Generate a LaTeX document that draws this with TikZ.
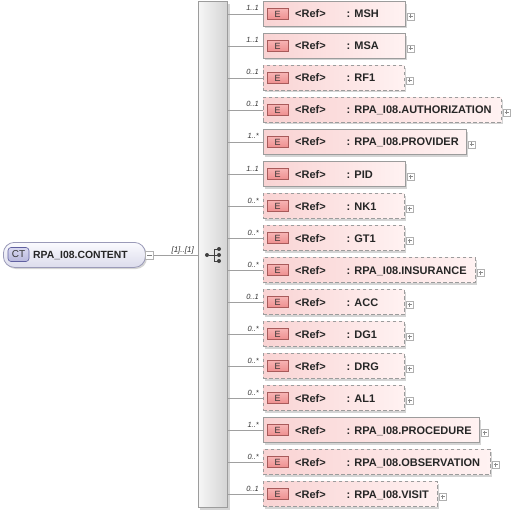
\documentclass[tikz,border=0pt]{standalone}
\usepackage{fontspec}
\setmainfont{Liberation Sans}
\usetikzlibrary{calc}
\definecolor{bordergray}{HTML}{9C9C9C}
\definecolor{linegray}{HTML}{A0A0A0}
\definecolor{pinkA}{HTML}{F9D3D3}
\definecolor{pinkB}{HTML}{FFF2F2}
\definecolor{etagA}{HTML}{F7B4B4}
\definecolor{etagB}{HTML}{EE8E8E}
\definecolor{etagborder}{HTML}{A85A5A}
\definecolor{ctA}{HTML}{FAFAFE}
\definecolor{ctB}{HTML}{DCDCEC}
\definecolor{ctborder}{HTML}{9A9AB8}
\definecolor{cttagA}{HTML}{D8D8F0}
\definecolor{cttagB}{HTML}{B8B8DC}
\definecolor{cttagborder}{HTML}{6060A0}
\definecolor{barA}{HTML}{F6F6F6}
\definecolor{barB}{HTML}{D4D4D4}
\definecolor{shadowgray}{HTML}{D4D4D4}
\tikzset{
  rowbox/.style={draw=bordergray, line width=0.8pt, left color=pinkA, right color=pinkB,
    minimum height=25pt, inner sep=0pt, anchor=west},
  optbox/.style={dash pattern=on 3.5pt off 2.5pt},
  reqbox/.style={solid},
  etag/.style={draw=etagborder, line width=0.6pt, top color=etagA, bottom color=etagB,
    minimum width=21pt, minimum height=11pt, inner sep=0pt, font=\fontsize{9}{10}\selectfont, text=black!80},
  plusbox/.style={draw=bordergray!80, fill=white, minimum size=7pt, inner sep=0pt, line width=0.5pt},
  txt/.style={font=\bfseries\fontsize{11}{12}\selectfont, anchor=base west, inner sep=0pt, text=black!85},
  mult/.style={font=\itshape\fontsize{7.5}{8}\selectfont, anchor=base east, inner sep=0pt, text=black!80},
  conn/.style={draw=linegray, line width=0.8pt},
}
\begin{document}
\begin{tikzpicture}[x=1pt,y=-1pt]
\useasboundingbox (0,0) rectangle (512,513);
% sequence bar
\fill[shadowgray] (200,4) rectangle (230,510);
\node[draw=bordergray, line width=0.8pt, left color=barA, right color=barB, minimum width=29pt, minimum height=506pt, inner sep=0pt, anchor=north west] (bar) at (198,1) {};
% sequence icon
\node[circle, fill=black!75, inner sep=0pt, minimum size=4pt] (sd) at (207,255) {};
\node[circle, fill=black!75, inner sep=0pt, minimum size=4pt] (s1) at (219,249) {};
\node[circle, fill=black!75, inner sep=0pt, minimum size=4pt] (s2) at (219,255) {};
\node[circle, fill=black!75, inner sep=0pt, minimum size=4pt] (s3) at (219,261) {};
\draw[black!75, line width=0.8pt] (sd) -- (s2) (s1.center) -- (214,249) -- (214,261) -- (s3.center);
% CT node
\fill[shadowgray, rounded corners=11pt] (5,244) rectangle (147,269);
\node[draw=ctborder, line width=0.8pt, top color=ctA, bottom color=ctB, rounded corners=11pt,
  minimum width=142pt, minimum height=25pt, inner sep=0pt, anchor=north west] (ct) at (3,242) {};
\node[draw=cttagborder, line width=0.6pt, top color=cttagA, bottom color=cttagB, rounded corners=3pt,
  minimum width=21pt, minimum height=14pt, inner sep=0pt, font=\fontsize{10}{10}\selectfont, text=black!80] (cttag) at (18.5,254.5) {CT};
\node[txt, font=\bfseries\fontsize{10.4}{12}\selectfont] (ctname) at (33,258.5) {RPA\_I08.CONTENT};
\node[plusbox, minimum size=8pt] (minus) at (149.5,255) {};
\draw[black!50, line width=0.5pt] ($(minus.center)+(-2.5,0)$) -- ($(minus.center)+(2.5,0)$);
\draw[conn] (minus.east) -- (minus.east -| bar.west);
\node[mult, font=\itshape\fontsize{8}{8}\selectfont] (ctmult) at (194,252) {[1]..[1]};
% rows
\foreach \i/\nm/\rt/\st/\m in {
 1/MSH/405/reqbox/1..1,
 2/MSA/405/reqbox/1..1,
 3/RF1/404/optbox/0..1,
 4/RPA\_I08.AUTHORIZATION/501/optbox/0..1,
 5/RPA\_I08.PROVIDER/466/reqbox/1..*,
 6/PID/405/reqbox/1..1,
 7/NK1/404/optbox/0..*,
 8/GT1/404/optbox/0..*,
 9/RPA\_I08.INSURANCE/475/optbox/0..*,
 10/ACC/404/optbox/0..1,
 11/DG1/404/optbox/0..*,
 12/DRG/404/optbox/0..*,
 13/AL1/404/optbox/0..*,
 14/RPA\_I08.PROCEDURE/479/reqbox/1..*,
 15/RPA\_I08.OBSERVATION/490/optbox/0..*,
 16/RPA\_I08.VISIT/437/optbox/0..1}{
  \pgfmathsetmacro{\c}{14+32*(\i-1)}
  \pgfmathsetmacro{\w}{\rt-263}
  \fill[shadowgray] (265,\c-10) rectangle (\rt+2,\c+14.5);
  \node[rowbox, \st, minimum width=\w pt] (r\i) at (263,\c) {};
  \node[etag] (e\i) at (277.7,\c) {E};
  \node[txt] (ref\i) at (295,\c+4) {<Ref>};
  \node[txt] (n\i) at (346.5,\c+4) {: \nm};
  \node[plusbox] (p\i) at (\rt+5.5,\c+2.5) {};
  \draw[black!45, line width=0.4pt] ($(p\i.center)+(-2,0)$) -- ($(p\i.center)+(2,0)$) ($(p\i.center)+(0,-2)$) -- ($(p\i.center)+(0,2)$);
  \draw[conn] (r\i.west -| bar.east) -- (r\i.west);
  \node[mult] (m\i) at (259,\c-3) {\m};
}
\end{tikzpicture}
\end{document}
